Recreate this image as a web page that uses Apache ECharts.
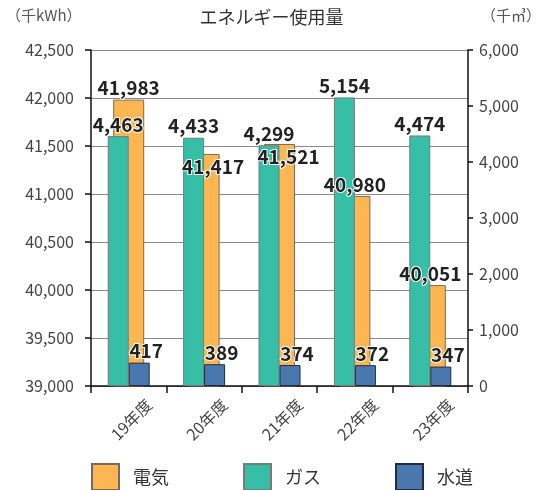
<!DOCTYPE html>
<html>
<head>
<meta charset="utf-8">
<script src="https://cdn.jsdelivr.net/npm/echarts@6/dist/echarts.min.js"></script>
<style>
html,body{margin:0;padding:0;background:#fff;}
#chart{width:543px;height:490px;}
</style>
</head>
<body>
<div id="chart"></div>
<script>
// データ
var categories = ['19年度', '20年度', '21年度', '22年度', '23年度'];
var denki = [41983, 41417, 41521, 40980, 40051];   // 千kWh
var gas = [4463, 4433, 4299, 5154, 4474];          // 千m3
var suido = [417, 389, 374, 372, 347];             // 千m3

var FONT = '"Noto Sans CJK JP", "Noto Sans", sans-serif';

function fmt(v){
    return Number(v).toLocaleString('en-US');
}

var valueLabel = {
    show: true,
    position: 'top',
    distance: 2,
    fontFamily: FONT,
    fontSize: 19,
    fontWeight: 'bold',
    color: '#222',
    textBorderColor: '#fff',
    textBorderWidth: 2,
    formatter: function(p){ return fmt(p.value); }
};

// 20,21年度は電気のラベルを棒の中に入れる（ガスのラベルと重なるため）
var denkiData = [];
for(var i=0;i<denki.length;i++){
    if(i==1||i==2){
        denkiData.push({value: denki[i], label: {position: 'insideTop', distance: 3, offset: [9, 0]}});
    }else{
        denkiData.push(denki[i]);
    }
}

// 年度ラベルの位置（カテゴリ中心より少し右にずらす）
var labelPos = [];
for(var k=0;k<categories.length;k++){
    labelPos.push(k + 0.5 + 0.27);
}

var myChart = echarts.init(document.getElementById('chart'));
var option = {
    backgroundColor: '#fff',
    animation: false,
    textStyle: {fontFamily: FONT},
    title: {
        text: 'エネルギー使用量',
        left: 'center',
        top: 3,
        textStyle: {fontFamily: FONT, fontSize: 18, fontWeight: 'normal', color: '#333'}
    },
    graphic: [
        {type: 'text', left: 6, top: 8, style: {text: '（千kWh）', font: '15px ' + FONT, fill: '#555'}},
        {type: 'text', right: 2, top: 8, style: {text: '（千㎥）', font: '15px ' + FONT, fill: '#555'}}
    ],
    legend: {
        top: 458,
        left: 86,
        itemWidth: 27,
        itemHeight: 26,
        itemGap: 74,
        icon: 'rect',
        data: ['電気', 'ガス', '水道'],
        textStyle: {fontFamily: FONT, fontSize: 18, color: '#333', padding: [0, 0, 0, 9]}
    },
    grid: {
        left: 91,
        right: 75,
        top: 50,
        bottom: 104
    },
    xAxis: [{
        type: 'category',
        data: categories,
        axisLine: {lineStyle: {color: '#111', width: 1.5}},
        axisTick: {show: true, inside: false, length: 7, lineStyle: {color: '#111', width: 1.5}},
        axisLabel: {show: false}
    }, {
        type: 'category',
        data: categories,
        show: false
    }, {
        // 年度ラベル用の軸
        type: 'value',
        min: 0,
        max: categories.length,
        position: 'bottom',
        axisLine: {show: false},
        axisTick: {show: false},
        splitLine: {show: false},
        axisLabel: {
            customValues: labelPos,
            rotate: 45,
            margin: 16,
            fontFamily: FONT,
            fontSize: 16,
            color: '#444',
            formatter: function(v){ return categories[Math.floor(v)]; }
        }
    }],
    yAxis: [{
        type: 'value',
        min: 39000,
        max: 42500,
        interval: 500,
        axisLine: {show: true, lineStyle: {color: '#111', width: 1.5}},
        axisTick: {show: true, length: 6, lineStyle: {color: '#111', width: 1.5}},
        axisLabel: {
            fontFamily: FONT,
            fontSize: 16,
            color: '#444',
            margin: 17,
            formatter: function(v){ return fmt(v); }
        },
        splitLine: {show: true, lineStyle: {color: '#8a8a8a', width: 1}}
    }, {
        type: 'value',
        min: 0,
        max: 6000,
        interval: 1000,
        position: 'right',
        axisLine: {show: true, lineStyle: {color: '#111', width: 1.5}},
        axisTick: {show: true, length: 5, lineStyle: {color: '#111', width: 1.5}},
        axisLabel: {
            fontFamily: FONT,
            fontSize: 16,
            color: '#444',
            margin: 11,
            formatter: function(v){ return fmt(v); }
        },
        splitLine: {show: false}
    }],
    series: [{
        name: '電気',
        type: 'bar',
        xAxisIndex: 1,
        yAxisIndex: 0,
        barWidth: 31,
        data: denkiData,
        itemStyle: {color: '#FDB652', borderColor: '#7a6a55', borderWidth: 1},
        label: valueLabel
    }, {
        name: 'ガス',
        type: 'bar',
        xAxisIndex: 0,
        yAxisIndex: 1,
        barWidth: 21,
        barGap: 0,
        data: gas,
        itemStyle: {color: '#36BEA7', borderColor: '#6f7f7c', borderWidth: 1},
        label: valueLabel
    }, {
        name: '水道',
        type: 'bar',
        xAxisIndex: 0,
        yAxisIndex: 1,
        barWidth: 21,
        barGap: 0,
        data: suido,
        itemStyle: {color: '#4A77AD', borderColor: '#1f2d45', borderWidth: 1},
        label: echarts.util.merge({offset: [7, 0]}, valueLabel)
    }]
};
myChart.setOption(option);
</script>
</body>
</html>
